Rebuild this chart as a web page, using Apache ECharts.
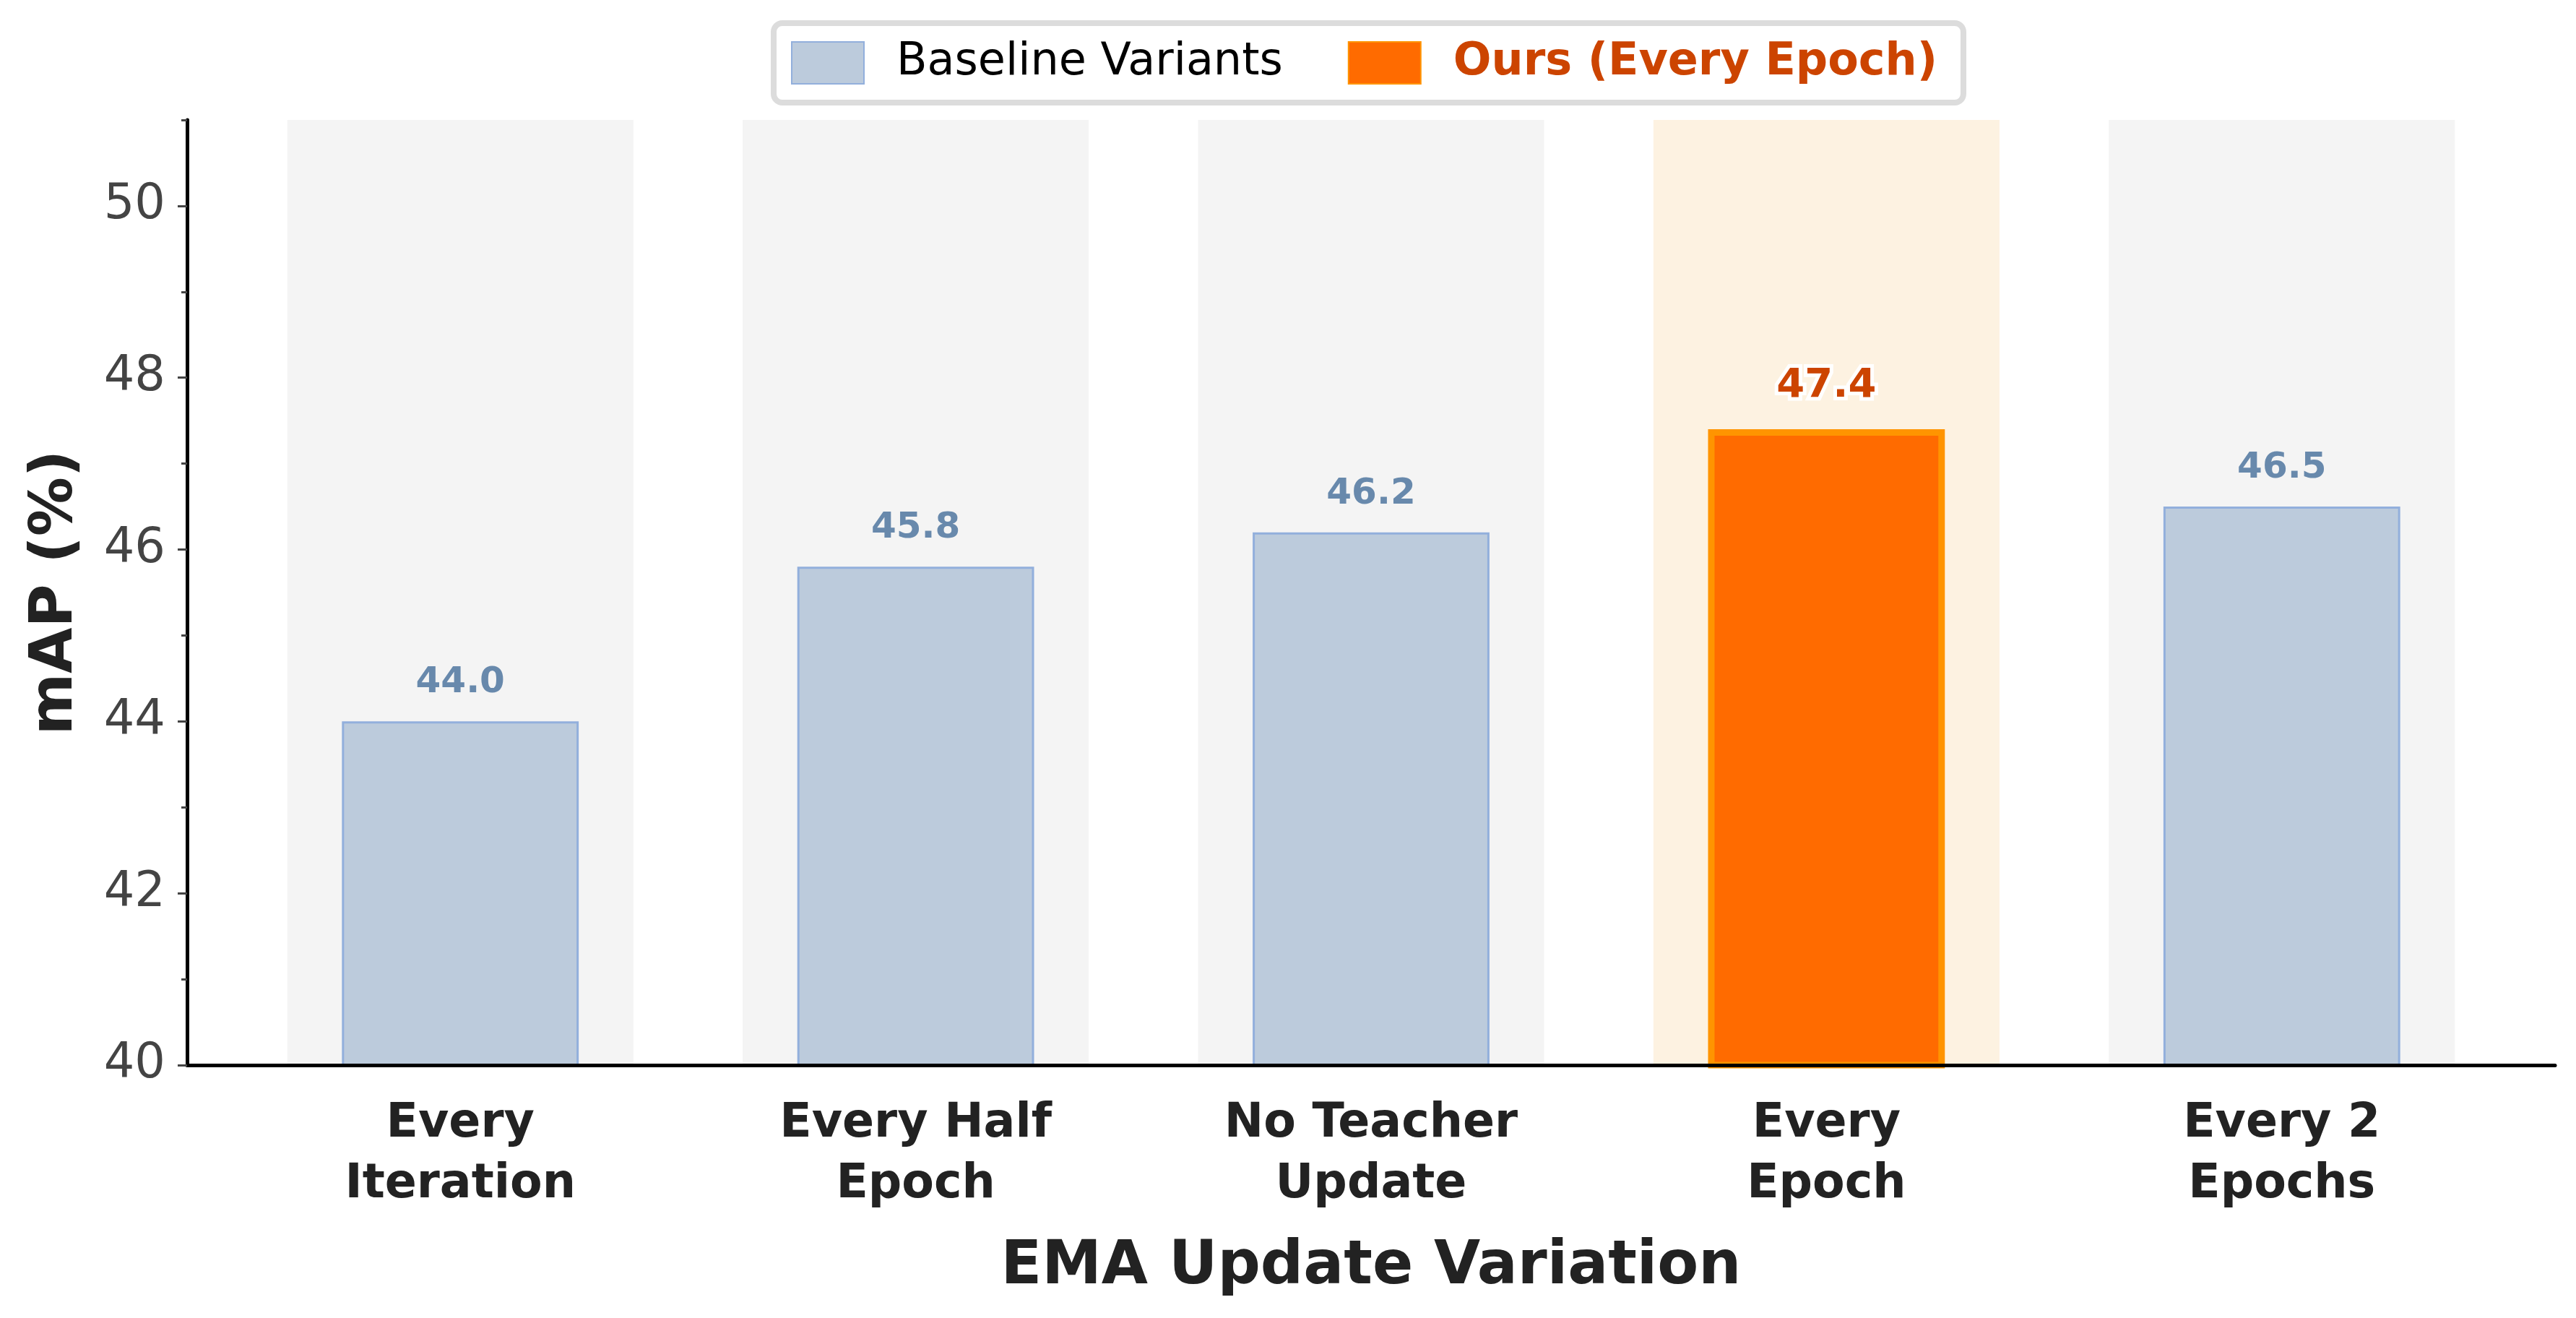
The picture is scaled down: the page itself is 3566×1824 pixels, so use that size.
<!DOCTYPE html>
<html>
<head>
<meta charset="utf-8">
<script src="https://cdn.jsdelivr.net/npm/echarts@6/dist/echarts.min.js"></script>
<style>
  html, body { margin: 0; padding: 0; background: #fff; }
  #chart { width: 3566px; height: 1824px; }
</style>
</head>
<body>
<div id="chart"></div>
<script>
  // data
  const categories = ['Every\nIteration', 'Every Half\nEpoch', 'No Teacher\nUpdate', 'Every\nEpoch', 'Every 2\nEpochs'];
  const baselineValues = [44.0, 45.8, 46.2, '-', 46.5];
  const oursValues = ['-', '-', '-', 47.4, '-'];
  const highlightIndex = 3;
  const yMin = 40;
  const yMax = 51;
  const yMajorTicks = [40, 42, 44, 46, 48, 50];
  const yMinorTicks = [41, 43, 45, 47, 49, 51];
  const xMin = -0.6;
  const xMax = 4.6;

  const FONT = 'DejaVu Sans';
  const bandValues = categories.map(() => yMax);

  const chart = echarts.init(document.getElementById('chart'));

  const plotTop = 166, plotBottom = 1474;
  const axisLeft = 259, axisRight = 3537;
  const step = (axisRight - axisLeft) / (xMax - xMin);
  const innerLeft = axisLeft + (-0.5 - xMin) * step;
  const innerRight = axisLeft + (categories.length - 0.5 - xMin) * step;

  const options = {
    backgroundColor: '#ffffff',
    animation: false,
    textStyle: { fontFamily: FONT },
    legend: {
      left: 1071,
      top: 32,
      padding: [24, 36, 24, 24],
      backgroundColor: '#ffffff',
      borderColor: '#dcdcdc',
      borderWidth: 8,
      borderRadius: 12,
      itemWidth: 100,
      itemHeight: 58,
      itemGap: 90,
      icon: 'rect',
      textStyle: { fontFamily: FONT, fontSize: 62, color: '#000', padding: [0, 0, 0, 40] },
      data: [
        { name: 'Baseline Variants', textStyle: { color: '#000000', fontWeight: 'normal' } },
        { name: 'Ours (Every Epoch)', textStyle: { color: '#cc4400', fontWeight: 'bold' } }
      ]
    },
    grid: [
      { left: axisLeft, right: 3566 - axisRight, top: plotTop, height: plotBottom - plotTop },
      { left: innerLeft, right: 3566 - innerRight, top: plotTop, height: plotBottom - plotTop }
    ],
    xAxis: [
      {
        gridIndex: 0,
        type: 'value',
        min: xMin,
        max: xMax,
        z: 10,
        axisLine: { show: true, onZero: false, lineStyle: { color: '#000', width: 5 } },
        axisTick: { show: false },
        axisLabel: { show: false },
        splitLine: { show: false },
        name: 'EMA Update Variation',
        nameLocation: 'middle',
        nameGap: 239,
        nameTextStyle: { fontFamily: FONT, fontSize: 83, fontWeight: 'bold', color: '#222' }
      },
      {
        gridIndex: 1,
        type: 'category',
        data: categories,
        axisLine: { show: false },
        axisTick: { show: false },
        axisLabel: {
          interval: 0,
          margin: 40,
          fontFamily: FONT,
          fontSize: 65,
          fontWeight: 'bold',
          color: '#222',
          lineHeight: 84
        }
      },
      {
        gridIndex: 1,
        type: 'category',
        data: categories,
        show: false
      }
    ],
    yAxis: [
      {
        gridIndex: 0,
        type: 'value',
        position: 'left',
        min: yMin,
        max: yMax,
        interval: 2,
        z: 10,
        axisLine: { show: true, onZero: false, lineStyle: { color: '#000', width: 5 } },
        axisTick: { show: true, length: 13, customValues: yMajorTicks, lineStyle: { color: '#444', width: 3 } },
        axisLabel: { customValues: yMajorTicks, margin: 30, fontFamily: FONT, fontSize: 67, color: '#444' },
        splitLine: { show: false },
        name: 'mAP (%)',
        nameLocation: 'middle',
        nameGap: 140,
        nameTextStyle: { fontFamily: FONT, fontSize: 82, fontWeight: 'bold', color: '#222' }
      },
      {
        gridIndex: 0,
        type: 'value',
        position: 'left',
        min: yMin,
        max: yMax,
        interval: 1,
        z: 10,
        axisLine: { show: false, onZero: false },
        axisTick: { show: true, length: 8, customValues: yMinorTicks, lineStyle: { color: '#444', width: 3 } },
        axisLabel: { show: false },
        splitLine: { show: false }
      },
      {
        gridIndex: 1,
        type: 'value',
        min: yMin,
        max: yMax,
        show: false
      }
    ],
    series: [
      {
        name: 'band',
        type: 'bar',
        xAxisIndex: 2,
        yAxisIndex: 2,
        silent: true,
        z: 1,
        barWidth: '76%',
        data: bandValues.map((v, i) => ({
          value: v,
          itemStyle: { color: i === highlightIndex ? '#fdf2e1' : '#f4f4f4' }
        }))
      },
      {
        name: 'Baseline Variants',
        type: 'bar',
        xAxisIndex: 1,
        yAxisIndex: 2,
        barWidth: '52%',
        barGap: '-100%',
        itemStyle: { color: '#bccbdc', borderColor: '#92afdc', borderWidth: 3 },
        label: {
          show: true,
          position: 'top',
          distance: 28,
          formatter: p => Number(p.value).toFixed(1),
          fontFamily: FONT,
          fontSize: 50,
          fontWeight: 'bold',
          color: '#6889ac'
        },
        data: baselineValues
      },
      {
        name: 'Ours (Every Epoch)',
        type: 'bar',
        xAxisIndex: 1,
        yAxisIndex: 2,
        barWidth: '52%',
        barGap: '-100%',
        itemStyle: { color: '#ff6b00', borderColor: '#ff9400', borderWidth: 9 },
        label: {
          show: true,
          position: 'top',
          distance: 32,
          formatter: p => Number(p.value).toFixed(1),
          fontFamily: FONT,
          fontSize: 56,
          fontWeight: 'bold',
          color: '#cc4400',
          textBorderColor: '#ffffff',
          textBorderWidth: 10
        },
        data: oursValues
      }
    ]
  };

  chart.setOption(options);
</script>
</body>
</html>
